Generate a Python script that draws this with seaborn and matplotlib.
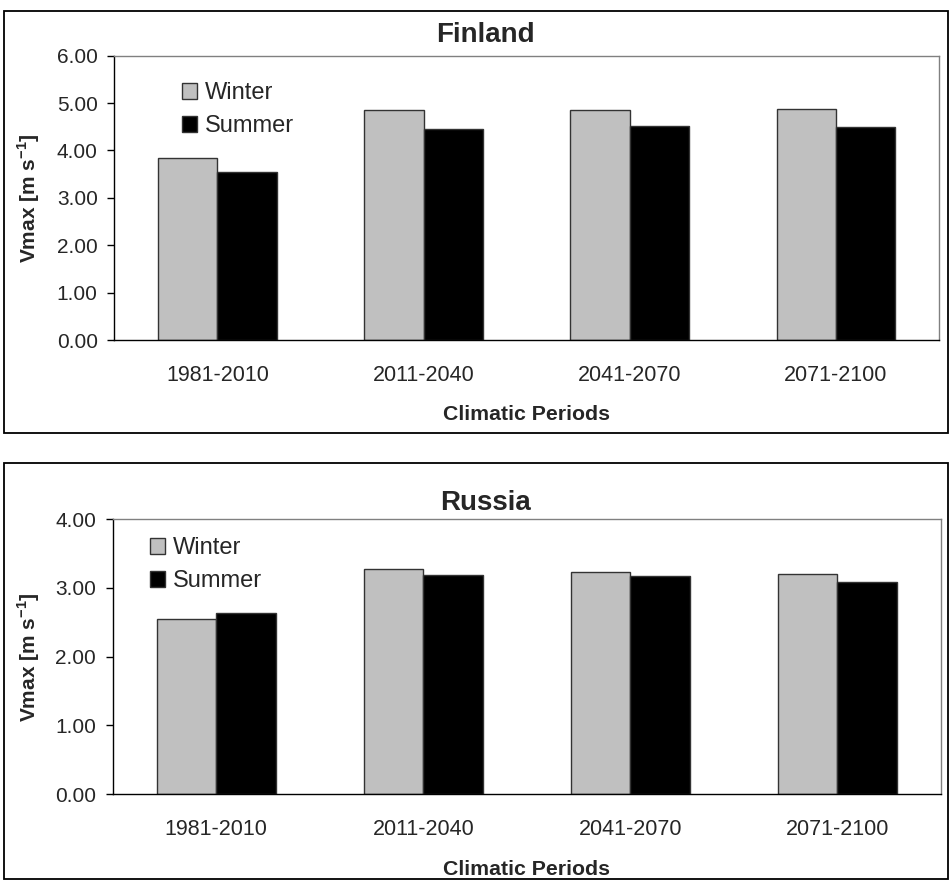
import seaborn as sns
import numpy as np
import pandas as pd
import matplotlib.pyplot as plt
from matplotlib.patches import Rectangle
from matplotlib.ticker import FormatStrFormatter

periods = ['1981-2010', '2011-2040', '2041-2070', '2071-2100']
seasons = ['Winter', 'Summer']
finland_winter = [3.85, 4.85, 4.85, 4.87]
finland_summer = [3.54, 4.45, 4.51, 4.49]
russia_winter = [2.55, 3.27, 3.23, 3.20]
russia_summer = [2.63, 3.19, 3.17, 3.09]

sns.set_style('white')
plt.rcParams['font.family'] = ['Liberation Sans', 'DejaVu Sans']
plt.rcParams['mathtext.fontset'] = 'custom'
plt.rcParams['mathtext.rm'] = 'Liberation Sans'
plt.rcParams['mathtext.bf'] = 'Liberation Sans:bold'

W, H = 951, 882
fig = plt.figure(figsize=(W / 100, H / 100), dpi=100)

def make_df(winter, summer):
    return pd.DataFrame({
        'period': periods * 2,
        'season': ['Winter'] * 4 + ['Summer'] * 4,
        'value': winter + summer,
    })

panels = [
    # name, data, axes box in px (left, top, right, bottom), ymax, box (top, bottom), title y, legend px, xlabel y
    ('Finland', make_df(finland_winter, finland_summer), (114.3, 55.7, 939, 340), 6, (10.7, 432.7), 35.5, (182, 91), -0.228),
    ('Russia', make_df(russia_winter, russia_summer), (112.7, 519.3, 941, 794), 4, (463.3, 879), 502.5, (150, 546), -0.240),
]

for name, df, (l, t, r, b), ymax, (bt, bb), ty, (lx, ly), xly in panels:
    # outer chart box
    fig.patches.append(Rectangle((4 / W, 1 - bb / H), 944 / W, (bb - bt) / H,
                                 transform=fig.transFigure, fill=False,
                                 edgecolor='black', linewidth=1.3))
    ax = fig.add_axes([l / W, 1 - b / H, (r - l) / W, (b - t) / H])
    sns.barplot(data=df, x='period', y='value', hue='season', hue_order=seasons,
                palette={'Winter': '#C0C0C0', 'Summer': 'black'},
                width=0.575, edgecolor='#333333', linewidth=1.0, ax=ax)
    ax.set_xlim(-0.5, 3.5)
    ax.set_ylim(0, ymax)
    ax.set_yticks(np.arange(0, ymax + 0.01, 1))
    ax.yaxis.set_major_formatter(FormatStrFormatter('%.2f'))
    ax.set_xticks([-0.5, 0.5, 1.5, 2.5, 3.5], minor=True)
    ax.tick_params(axis='x', which='major', length=0, pad=18, labelsize=15.5)
    ax.tick_params(axis='x', which='minor', length=5, width=1, direction='out', color='black')
    ax.tick_params(axis='y', length=5, width=1, direction='out', color='black', pad=7, labelsize=15, left=True)
    for s in ['left', 'bottom']:
        ax.spines[s].set_color('black')
        ax.spines[s].set_linewidth(1.0)
    for s in ['top', 'right']:
        ax.spines[s].set_color('#808080')
        ax.spines[s].set_linewidth(1.0)
    ax.set_xlabel('Climatic Periods', fontsize=15.3, fontweight='bold')
    ax.xaxis.set_label_coords(0.5, xly)
    ax.set_ylabel(r'Vmax [m s$^{\mathbf{-1}}$]', fontsize=15, fontweight='bold')
    ax.yaxis.set_label_coords((42 - l) / (r - l), 0.5)
    handles, labels = ax.get_legend_handles_labels()
    ax.legend(handles, labels, loc='upper left', frameon=False, fontsize=17,
              handlelength=0.64, handleheight=0.64, handletextpad=0.35,
              labelspacing=0.48, borderaxespad=0, borderpad=0,
              bbox_to_anchor=((lx - l) / (r - l), (b - ly + 9) / (b - t)))
    fig.text(485 / W, 1 - ty / H, name, ha='center', va='center', fontsize=20, fontweight='bold')

fig.savefig('out.png', dpi=100)
